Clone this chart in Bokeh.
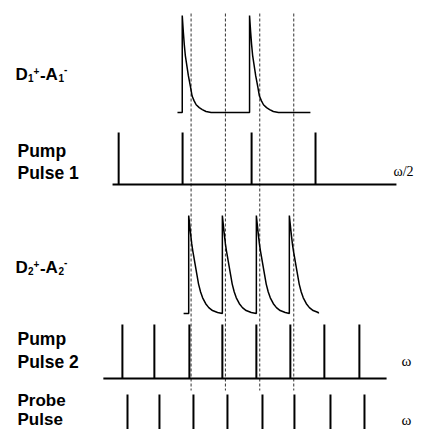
from bokeh.plotting import figure
from bokeh.models import Range1d
from bokeh.core.properties import value
from bokeh.embed import file_html
from bokeh.resources import INLINE

# ---- data (time in units of the probe period) ----
probe_t = [0.0, 0.94, 1.94, 2.94, 3.97, 4.91, 5.97, 6.97]
pump2_t = [-0.15, 0.79, 1.82, 2.79, 3.79, 4.79, 5.79, 6.82]
pump1_t = [-0.26, 1.62, 3.65, 5.53]
d1_peaks = [1.61, 3.59]
d2_peaks = [1.80, 2.79, 3.79, 4.76]
marker_t = [1.87, 2.88, 3.89, 4.89]
pump1_span = [-0.44, 7.91]
pump2_span = [-0.71, 7.62]
d1_span = [1.47, 5.38]
d2_span = [1.65, 5.62]
decay_dt = [0, 0.03, 0.06, 0.09, 0.12, 0.15, 0.18, 0.24, 0.29, 0.35, 0.41, 0.5, 0.59, 0.7, 0.85]
d1_frac = [1, 0.84, 0.70, 0.59, 0.52, 0.45, 0.38, 0.27, 0.17, 0.12, 0.08, 0.05, 0.03, 0.01, 0]
d2_frac = [1, 0.90, 0.80, 0.71, 0.64, 0.58, 0.52, 0.40, 0.30, 0.22, 0.16, 0.10, 0.06, 0.03, 0.01]
row_labels_left = ["Pump", "Pulse 1", "Pump", "Pulse 2", "Probe", "Pulse"]
freq_labels = ["\u03c9/2", "\u03c9", "\u03c9"]

# ---- layout (pixels from the picture's top-left) ----
W, H = 416, 429
X0, SC = 127.0, 34.0   # pixel x of t=0, px per unit


def T(px):
    return (px - X0) / SC


p = figure(width=W, height=H, output_backend="svg", toolbar_location=None,
           x_range=Range1d(T(0), T(W)), y_range=Range1d(H, 0),
           min_border=0, outline_line_color=None)
p.xaxis.visible = False
p.yaxis.visible = False
p.grid.visible = False
p.background_fill_color = "white"
p.border_fill_color = "white"

# rows: (baseline, top)
D1 = (112, 15)
P1 = (184, 132)
D2 = (313, 215)
P2 = (378, 324)
PR = (H, 394)

# dashed markers
for t in marker_t:
    p.line([t, t], [13, 390], line_color="#333333", line_width=1, line_dash="3 2")

# pump pulse trains
def pulse_row(times, span, row):
    base, top = row
    p.line(span, [base, base], line_color="black", line_width=2)
    p.segment(x0=times, y0=[base] * len(times), x1=times, y1=[top] * len(times),
              line_color="black", line_width=2)

pulse_row(pump1_t, pump1_span, P1)
pulse_row(pump2_t, pump2_span, P2)

# probe pulses (no baseline)
p.segment(x0=probe_t, y0=[PR[0]] * len(probe_t), x1=probe_t, y1=[PR[1]] * len(probe_t),
          line_color="black", line_width=2)

# decay curves
def decay_row(peaks, span, frac, row):
    base, top = row
    h = base - top
    xs, ys = [span[0]], [base]
    for i, pk in enumerate(peaks):
        nxt = peaks[i + 1] if i + 1 < len(peaks) else span[1]
        xs += [pk, pk]
        ys += [base, top]
        for dt, f in zip(decay_dt, frac):
            if pk + dt < nxt:
                xs.append(pk + dt)
                ys.append(base - h * f)
        xs.append(nxt)
        ys.append(base)
    p.line(xs, ys, line_color="black", line_width=1.5)

decay_row(d1_peaks, d1_span, d1_frac, D1)
decay_row(d2_peaks, d2_span, d2_frac, D2)

# ---- texts ----
SANS = value("Liberation Sans")
SERIF = value("Liberation Serif")


def txt(s, px, py, size, font=SANS, style="bold", align="left"):
    p.text(x=[T(px)], y=[py], text=[s], text_font=font, text_font_size=size,
           text_font_style=style, text_align=align, text_baseline="alphabetic",
           text_color="black")


def da_label(idx, x0, yb):
    txt("D", x0, yb, "17px")
    txt(idx, x0 + 12.5, yb + 3, "10px")
    txt("+", x0 + 18, yb - 4, "10px")
    txt("-", x0 + 24.5, yb, "17px")
    txt("A", x0 + 30, yb, "17px")
    txt(idx, x0 + 43, yb + 3, "10px")
    txt("-", x0 + 48.5, yb - 6, "10px")


da_label("1", 15, 74)
da_label("2", 15, 267)

txt(row_labels_left[0], 17, 150, "17.5px")
txt(row_labels_left[1], 17, 172, "17.5px")
txt(row_labels_left[2], 17, 338, "17.5px")
txt(row_labels_left[3], 17, 361, "17.5px")
txt(row_labels_left[4], 17, 400, "17px")
txt(row_labels_left[5], 17, 419, "17px")

txt(freq_labels[0], 393, 171, "14px", font=SERIF, style="normal")
txt(freq_labels[1], 406, 360, "15px", font=SERIF, style="normal", align="center")
txt(freq_labels[2], 406, 419, "15px", font=SERIF, style="normal", align="center")

open("out.html", "w").write(file_html(p, INLINE))
